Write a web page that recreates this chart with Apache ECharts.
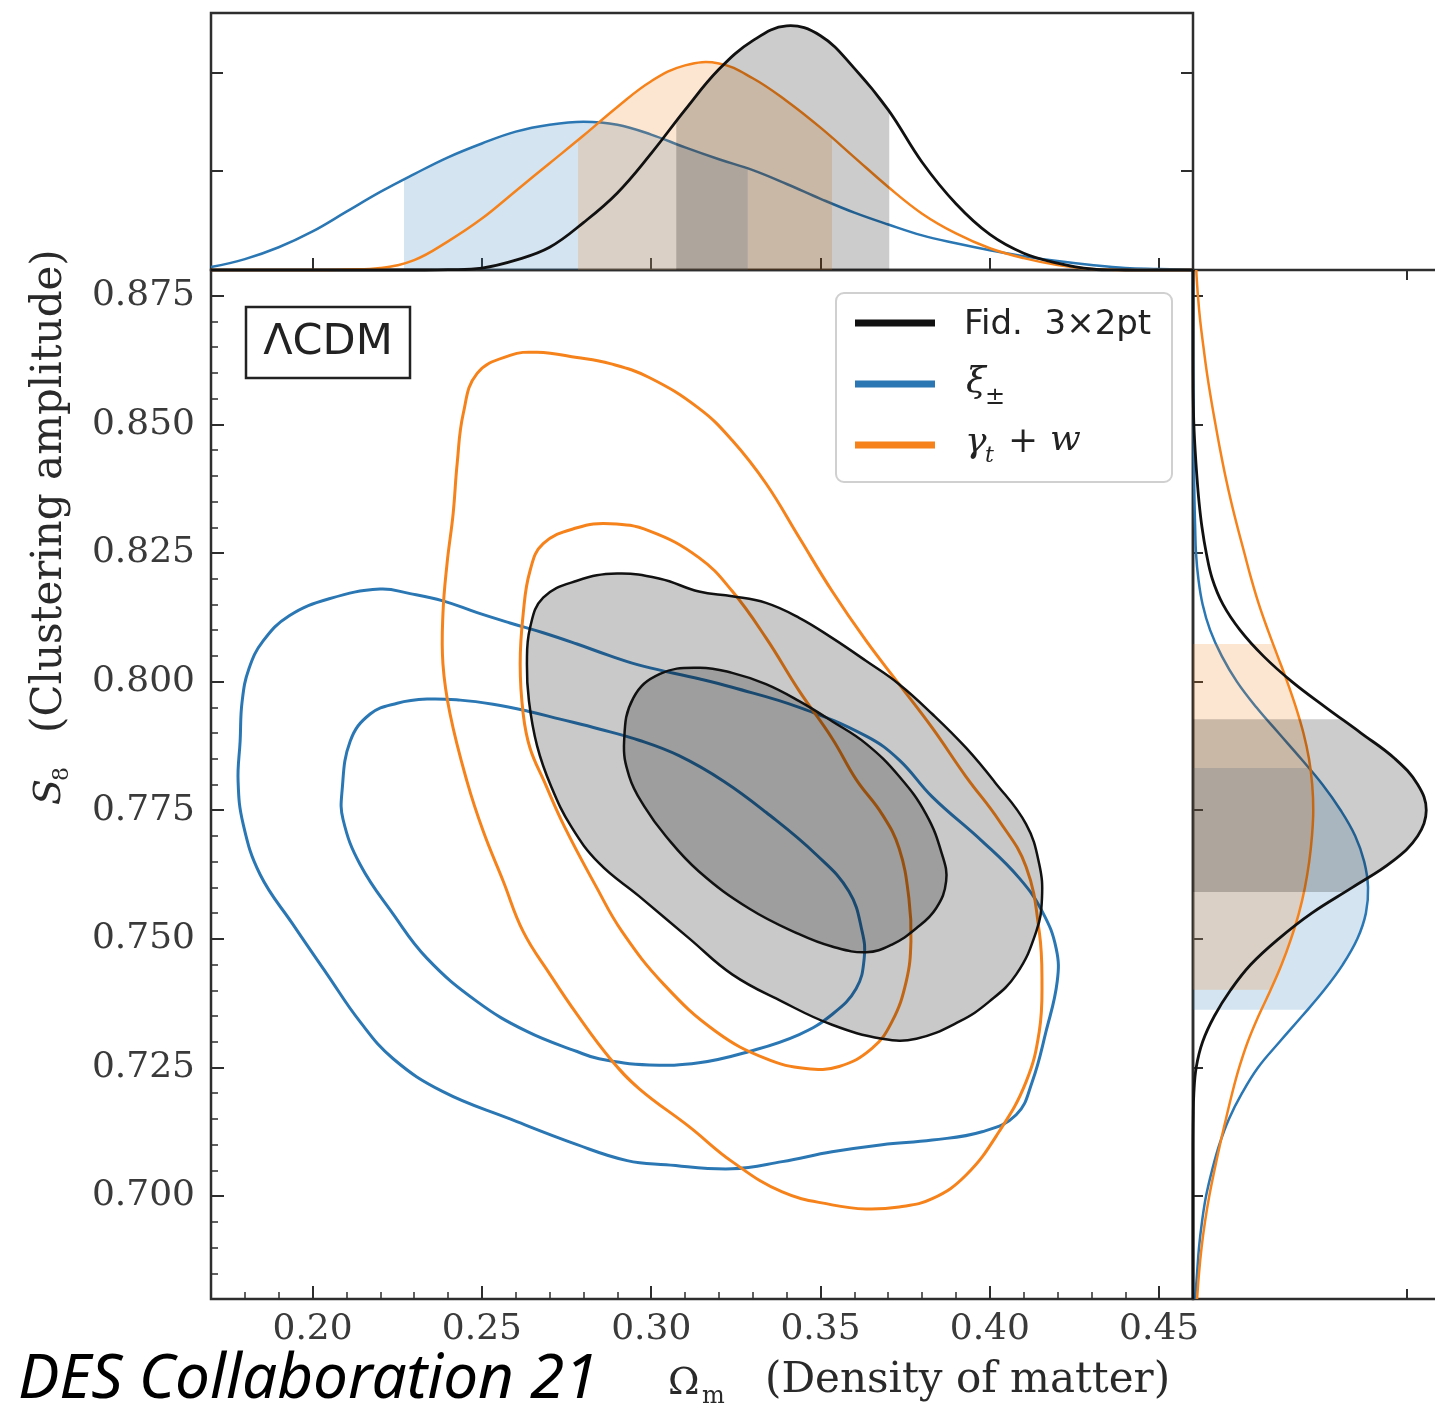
<!DOCTYPE html>
<html>
<head>
<meta charset="utf-8">
<script src="https://cdn.jsdelivr.net/npm/echarts@6/dist/echarts.min.js"></script>
<style>
  html, body { margin: 0; padding: 0; background: #ffffff; }
  #chart { width: 1435px; height: 1413px; }
</style>
</head>
<body>
<div id="chart"></div>
<script>
// ---------------- axis ticks ----------------
const omTicks = [0.20, 0.25, 0.30, 0.35, 0.40, 0.45];
const omTickLabels = ['0.20', '0.25', '0.30', '0.35', '0.40', '0.45'];
const s8Ticks = [0.700, 0.725, 0.750, 0.775, 0.800, 0.825, 0.850, 0.875];
const s8TickLabels = ['0.700', '0.725', '0.750', '0.775', '0.800', '0.825', '0.850', '0.875'];
const omMinorTicks = [];
for (let i = 17; i <= 46; i++) omMinorTicks.push(i / 100);
const s8MinorTicks = [];
for (let i = 136; i <= 176; i++) s8MinorTicks.push(i / 200);
const topDensityTicks = [1, 2];
const sideDensityTicks = [1];

// ---------------- 1D marginal of Omega_m ----------------
const omGrid = [0.17, 0.18, 0.19, 0.20, 0.21, 0.22, 0.23, 0.24, 0.25, 0.26, 0.27, 0.28, 0.29, 0.30, 0.31,
                0.32, 0.33, 0.34, 0.35, 0.36, 0.37, 0.38, 0.39, 0.40, 0.41, 0.42, 0.43, 0.44, 0.45, 0.46];
const blueOm   = [0.03, 0.11, 0.23, 0.39, 0.59, 0.79, 0.97, 1.14, 1.28, 1.40, 1.47, 1.50, 1.47, 1.37, 1.24,
                  1.12, 1.01, 0.87, 0.72, 0.58, 0.46, 0.35, 0.27, 0.20, 0.14, 0.09, 0.05, 0.02, 0.01, 0.00];
const orangeOm = [0, 0, 0, 0, 0.005, 0.02, 0.10, 0.29, 0.52, 0.80, 1.08, 1.36, 1.65, 1.91, 2.07,
                  2.09, 1.94, 1.71, 1.44, 1.14, 0.84, 0.57, 0.37, 0.22, 0.12, 0.05, 0.01, 0, 0, 0];
const blackOm  = [0, 0, 0, 0, 0, 0, 0, 0.003, 0.02, 0.10, 0.23, 0.48, 0.78, 1.18, 1.62,
                  2.03, 2.32, 2.47, 2.37, 2.04, 1.62, 1.09, 0.67, 0.36, 0.17, 0.07, 0.01, 0, 0, 0];
const blueOmBand   = [0.2270, 0.3285];
const orangeOmBand = [0.2784, 0.3534];
const blackOmBand  = [0.3074, 0.3703];

// ---------------- 1D marginal of S8 ----------------
const s8Grid = [0.680, 0.685, 0.690, 0.695, 0.700, 0.705, 0.710, 0.715, 0.720, 0.725, 0.730, 0.735, 0.740, 0.745,
                0.750, 0.755, 0.760, 0.765, 0.770, 0.775, 0.780, 0.785, 0.790, 0.795, 0.800, 0.805, 0.810, 0.815,
                0.820, 0.825, 0.830, 0.835, 0.840, 0.845, 0.850, 0.855, 0.860, 0.865, 0.870, 0.875, 0.880];
const blueS8   = [0.010, 0.019, 0.028, 0.042, 0.061, 0.089, 0.123, 0.168, 0.229, 0.304, 0.405, 0.510, 0.612, 0.700,
                  0.768, 0.808, 0.818, 0.800, 0.758, 0.690, 0.605, 0.505, 0.400, 0.296, 0.205, 0.134, 0.080, 0.045,
                  0.025, 0.014, 0.010, 0.007, 0.005, 0.004, 0.003, 0.002, 0.001, 0, 0, 0, 0];
const orangeS8 = [0.019, 0.028, 0.040, 0.056, 0.076, 0.100, 0.126, 0.154, 0.183, 0.216, 0.256, 0.306, 0.362, 0.414,
                  0.458, 0.495, 0.523, 0.543, 0.556, 0.562, 0.557, 0.542, 0.516, 0.481, 0.440, 0.395, 0.350, 0.308,
                  0.272, 0.240, 0.208, 0.178, 0.151, 0.127, 0.105, 0.084, 0.065, 0.049, 0.034, 0.023, 0.015];
const blackS8  = [0, 0, 0, 0, 0, 0, 0, 0.001, 0.004, 0.015, 0.045, 0.100, 0.175, 0.270,
                  0.400, 0.555, 0.745, 0.930, 1.050, 1.090, 1.050, 0.944, 0.785, 0.620, 0.462, 0.328, 0.220, 0.140,
                  0.090, 0.062, 0.042, 0.028, 0.018, 0.010, 0.004, 0.001, 0, 0, 0, 0, 0];
const blueS8Band   = [0.7362, 0.7832];
const orangeS8Band = [0.7401, 0.8073];
const blackS8Band  = [0.7591, 0.7927];

// ---------------- 2D contours [Omega_m, S8] ----------------
const blueOuter = [
  [0.1780, 0.7806], [0.1786, 0.7884], [0.1792, 0.7962], [0.1812, 0.8025], [0.1854, 0.8079], [0.1931, 0.8128],
  [0.2049, 0.8161], [0.2199, 0.8180], [0.2288, 0.8171], [0.2385, 0.8157], [0.2486, 0.8134], [0.2583, 0.8114],
  [0.2681, 0.8095], [0.2781, 0.8073], [0.2879, 0.8050], [0.2976, 0.8030], [0.3144, 0.8005], [0.3239, 0.7989],
  [0.3437, 0.7950], [0.3635, 0.7894], [0.3732, 0.7848], [0.3830, 0.7776], [0.3977, 0.7690], [0.4087, 0.7618],
  [0.4155, 0.7553], [0.4196, 0.7481], [0.4199, 0.7417], [0.4166, 0.7320], [0.4125, 0.7222], [0.4078, 0.7158],
  [0.3977, 0.7125], [0.3830, 0.7109], [0.3682, 0.7100], [0.3534, 0.7086], [0.3387, 0.7067], [0.3239, 0.7053],
  [0.3044, 0.7061], [0.2929, 0.7069], [0.2781, 0.7100], [0.2583, 0.7150], [0.2385, 0.7203], [0.2238, 0.7267],
  [0.2140, 0.7339], [0.2043, 0.7431], [0.1942, 0.7528], [0.1845, 0.7625], [0.1795, 0.7723]
];
const blueInner = [
  [0.2087, 0.7787], [0.2111, 0.7884], [0.2170, 0.7937], [0.2250, 0.7958], [0.2338, 0.7966], [0.2436, 0.7964],
  [0.2533, 0.7956], [0.2633, 0.7943], [0.2731, 0.7927], [0.2846, 0.7908], [0.2964, 0.7886], [0.3082, 0.7856],
  [0.3215, 0.7806], [0.3339, 0.7746], [0.3487, 0.7664], [0.3584, 0.7592], [0.3623, 0.7514], [0.3629, 0.7462],
  [0.3605, 0.7403], [0.3534, 0.7353], [0.3437, 0.7314], [0.3289, 0.7281], [0.3141, 0.7259], [0.2994, 0.7255],
  [0.2846, 0.7267], [0.2781, 0.7281], [0.2633, 0.7320], [0.2486, 0.7378], [0.2338, 0.7462], [0.2238, 0.7548],
  [0.2140, 0.7645], [0.2090, 0.7732]
];
const orangeOuter = [
  [0.2663, 0.8640], [0.2781, 0.8630], [0.2879, 0.8618], [0.2994, 0.8591], [0.3141, 0.8531], [0.3239, 0.8469],
  [0.3339, 0.8385], [0.3437, 0.8280], [0.3534, 0.8176], [0.3635, 0.8079], [0.3732, 0.7995], [0.3830, 0.7910],
  [0.3930, 0.7815], [0.4027, 0.7730], [0.4107, 0.7640], [0.4146, 0.7514], [0.4154, 0.7417], [0.4146, 0.7320],
  [0.4107, 0.7222], [0.4027, 0.7125], [0.3930, 0.7041], [0.3830, 0.6995], [0.3732, 0.6979], [0.3635, 0.6975],
  [0.3534, 0.6983], [0.3387, 0.7008], [0.3239, 0.7067], [0.3112, 0.7135], [0.2964, 0.7209], [0.2879, 0.7267],
  [0.2781, 0.7353], [0.2701, 0.7431], [0.2622, 0.7514], [0.2563, 0.7612], [0.2504, 0.7709], [0.2456, 0.7806],
  [0.2406, 0.7937], [0.2385, 0.8034], [0.2385, 0.8132], [0.2397, 0.8229], [0.2415, 0.8326], [0.2427, 0.8424],
  [0.2445, 0.8521], [0.2486, 0.8599], [0.2583, 0.8634]
];
const orangeInner = [
  [0.2879, 0.8307], [0.2994, 0.8293], [0.3141, 0.8241], [0.3239, 0.8176], [0.3339, 0.8085], [0.3437, 0.7982],
  [0.3534, 0.7890], [0.3605, 0.7810], [0.3682, 0.7742], [0.3732, 0.7676], [0.3761, 0.7579], [0.3767, 0.7495],
  [0.3753, 0.7417], [0.3711, 0.7339], [0.3652, 0.7287], [0.3555, 0.7252], [0.3457, 0.7248], [0.3339, 0.7267],
  [0.3191, 0.7320], [0.3038, 0.7411], [0.2914, 0.7514], [0.2837, 0.7602], [0.2743, 0.7719], [0.2684, 0.7806],
  [0.2642, 0.7871], [0.2622, 0.7937], [0.2613, 0.8034], [0.2622, 0.8132], [0.2642, 0.8215], [0.2681, 0.8268],
  [0.2781, 0.8299]
];
const blackOuter = [
  [0.2899, 0.8210], [0.3026, 0.8200], [0.3141, 0.8175], [0.3239, 0.8166], [0.3339, 0.8153], [0.3437, 0.8124],
  [0.3534, 0.8085], [0.3635, 0.8040], [0.3732, 0.7995], [0.3830, 0.7937], [0.3930, 0.7871], [0.4013, 0.7806],
  [0.4107, 0.7723], [0.4146, 0.7645], [0.4154, 0.7579], [0.4137, 0.7514], [0.4078, 0.7431], [0.3998, 0.7378],
  [0.3909, 0.7339], [0.3783, 0.7306], [0.3682, 0.7306], [0.3534, 0.7333], [0.3387, 0.7378], [0.3239, 0.7431],
  [0.3112, 0.7501], [0.2964, 0.7583], [0.2846, 0.7647], [0.2763, 0.7719], [0.2704, 0.7797], [0.2663, 0.7875],
  [0.2639, 0.7962], [0.2633, 0.8034], [0.2642, 0.8104], [0.2681, 0.8163], [0.2781, 0.8196]
];
const blackInner = [
  [0.2920, 0.7884], [0.2947, 0.7968], [0.3026, 0.8015], [0.3141, 0.8027], [0.3239, 0.8017], [0.3339, 0.7995],
  [0.3437, 0.7962], [0.3534, 0.7923], [0.3635, 0.7879], [0.3732, 0.7816], [0.3812, 0.7742], [0.3859, 0.7664],
  [0.3871, 0.7612], [0.3841, 0.7559], [0.3782, 0.7520], [0.3711, 0.7489], [0.3635, 0.7474], [0.3534, 0.7485],
  [0.3437, 0.7509], [0.3289, 0.7559], [0.3141, 0.7631], [0.3044, 0.7699], [0.2979, 0.7758], [0.2935, 0.7816]
];

// ---------------- styling ----------------
const BLUE = '#2a77b4';
const ORANGE = '#f5821a';
const BLACK = '#111111';
const FRAME = '#2e2e2e';
const SMOOTH_CONTOUR = 0.42;
const SMOOTH_MARGINAL = 0.4;
const TOP_MAX = 2.6;
const SIDE_MAX = 1.215;
const OM_MIN = 0.17, OM_MAX = 0.46;
const S8_MIN = 0.68, S8_MAX = 0.88;

function labelFor(values, labels) {
  return function (v) {
    for (let i = 0; i < values.length; i++) {
      if (Math.abs(values[i] - v) < 1e-9) return labels[i];
    }
    return '';
  };
}

// closed 2D confidence contour
function contourSeries(points, color, fill, width) {
  return {
    type: 'custom', xAxisIndex: 1, yAxisIndex: 3, silent: true, data: points,
    renderItem: function (params, api) {
      if (params.dataIndex !== 0) return null;
      const px = points.map(function (p) { return api.coord(p); });
      return {
        type: 'polygon',
        shape: { points: px, smooth: SMOOTH_CONTOUR },
        style: { fill: fill || 'none', stroke: color, lineWidth: width, lineJoin: 'round' }
      };
    }
  };
}

// 1D marginal on the Omega_m panel (curve + shaded 68% interval under it)
function topMarginal(xs, ys, band, color, bandColor, width) {
  const pts = xs.map(function (x, i) { return [x, ys[i]]; });
  return {
    type: 'custom', xAxisIndex: 0, yAxisIndex: 0, silent: true, data: pts,
    renderItem: function (params, api) {
      if (params.dataIndex !== 0) return null;
      const line = pts.map(function (p) { return api.coord(p); });
      const area = [api.coord([pts[0][0], 0])].concat(line, [api.coord([pts[pts.length - 1][0], 0])]);
      const a = api.coord([band[0], 0]);
      const b = api.coord([band[1], TOP_MAX]);
      return {
        type: 'group',
        children: [
          {
            type: 'polyline', shape: { points: area, smooth: SMOOTH_MARGINAL },
            style: { fill: bandColor, stroke: null, lineWidth: 0 },
            clipPath: { type: 'rect', shape: { x: a[0], y: b[1], width: b[0] - a[0], height: a[1] - b[1] } }
          },
          {
            type: 'polyline', shape: { points: line, smooth: SMOOTH_MARGINAL },
            style: { fill: null, stroke: color, lineWidth: width }
          }
        ]
      };
    }
  };
}

// 1D marginal on the S8 panel (density along x, S8 along y)
function sideMarginal(ss, ds, band, color, bandColor, width) {
  const pts = ss.map(function (s, i) { return [ds[i], s]; });
  return {
    type: 'custom', xAxisIndex: 4, yAxisIndex: 4, silent: true, data: pts,
    renderItem: function (params, api) {
      if (params.dataIndex !== 0) return null;
      const line = pts.map(function (p) { return api.coord(p); });
      const area = [api.coord([0, pts[0][1]])].concat(line, [api.coord([0, pts[pts.length - 1][1]])]);
      const a = api.coord([0, band[0]]);
      const b = api.coord([SIDE_MAX, band[1]]);
      return {
        type: 'group',
        children: [
          {
            type: 'polyline', shape: { points: area, smooth: SMOOTH_MARGINAL },
            style: { fill: bandColor, stroke: null, lineWidth: 0 },
            clipPath: { type: 'rect', shape: { x: a[0], y: b[1], width: b[0] - a[0], height: a[1] - b[1] } }
          },
          {
            type: 'polyline', shape: { points: line, smooth: SMOOTH_MARGINAL },
            style: { fill: null, stroke: color, lineWidth: width }
          }
        ]
      };
    }
  };
}

const tickLine = { color: FRAME, width: 2 };
const serifLabel = { fontFamily: 'DejaVu Serif', fontSize: 36, color: '#3a3a3a' };
const gridBox = { show: true, borderColor: FRAME, borderWidth: 2.5, backgroundColor: 'transparent', outerBoundsMode: 'none', containLabel: false };

function hiddenAxis(extra) {
  return Object.assign({
    type: 'value', axisLine: { show: false }, splitLine: { show: false },
    axisLabel: { show: false }, axisTick: { show: false }
  }, extra);
}

const option = {
  animation: false,
  backgroundColor: '#ffffff',
  grid: [
    Object.assign({ left: 211, top: 13, width: 982, height: 257 }, gridBox),
    Object.assign({ left: 211, top: 270, width: 982, height: 1029 }, gridBox),
    Object.assign({ left: 1193, top: 270, width: 260, height: 1029 }, gridBox)
  ],
  xAxis: [
    // 0: top panel, Omega_m
    hiddenAxis({ gridIndex: 0, min: OM_MIN, max: OM_MAX, position: 'bottom',
      axisTick: { show: true, inside: true, length: 12, lineStyle: tickLine, customValues: omTicks } }),
    // 1: main panel, Omega_m with labels
    hiddenAxis({ gridIndex: 1, min: OM_MIN, max: OM_MAX, position: 'bottom',
      axisTick: { show: true, inside: true, length: 13, lineStyle: tickLine, customValues: omTicks },
      axisLabel: Object.assign({ show: true, margin: 13, customValues: omTicks,
        formatter: labelFor(omTicks, omTickLabels) }, serifLabel) }),
    // 2: main panel minor ticks
    hiddenAxis({ gridIndex: 1, min: OM_MIN, max: OM_MAX, position: 'bottom',
      axisTick: { show: true, inside: true, length: 7, lineStyle: { color: FRAME, width: 1.5 }, customValues: omMinorTicks } }),
    // 3: side panel density, top edge
    hiddenAxis({ gridIndex: 2, min: 0, max: SIDE_MAX, position: 'top',
      axisTick: { show: true, inside: true, length: 10, lineStyle: tickLine, customValues: sideDensityTicks } }),
    // 4: side panel density, bottom edge
    hiddenAxis({ gridIndex: 2, min: 0, max: SIDE_MAX, position: 'bottom',
      axisTick: { show: true, inside: true, length: 10, lineStyle: tickLine, customValues: sideDensityTicks } })
  ],
  yAxis: [
    // 0: top panel density, left
    hiddenAxis({ gridIndex: 0, min: 0, max: TOP_MAX, position: 'left',
      axisTick: { show: true, inside: true, length: 12, lineStyle: tickLine, customValues: topDensityTicks } }),
    // 1: top panel density, right
    hiddenAxis({ gridIndex: 0, min: 0, max: TOP_MAX, position: 'right',
      axisTick: { show: true, inside: true, length: 12, lineStyle: tickLine, customValues: topDensityTicks } }),
    // 2: main panel minor ticks
    hiddenAxis({ gridIndex: 1, min: S8_MIN, max: S8_MAX, position: 'left',
      axisTick: { show: true, inside: true, length: 7, lineStyle: { color: FRAME, width: 1.5 }, customValues: s8MinorTicks } }),
    // 3: main panel S8 with labels
    hiddenAxis({ gridIndex: 1, min: S8_MIN, max: S8_MAX, position: 'left',
      axisTick: { show: true, inside: true, length: 13, lineStyle: tickLine, customValues: s8Ticks },
      axisLabel: Object.assign({ show: true, margin: 16, customValues: s8Ticks,
        formatter: labelFor(s8Ticks, s8TickLabels) }, serifLabel) }),
    // 4: side panel S8
    hiddenAxis({ gridIndex: 2, min: S8_MIN, max: S8_MAX, position: 'left',
      axisTick: { show: true, inside: true, length: 10, lineStyle: tickLine, customValues: s8Ticks } })
  ],
  series: [
    contourSeries(blueOuter, BLUE, null, 3),
    contourSeries(blueInner, BLUE, null, 3),
    contourSeries(orangeOuter, ORANGE, null, 3),
    contourSeries(orangeInner, ORANGE, null, 3),
    contourSeries(blackOuter, BLACK, 'rgba(0,0,0,0.21)', 2.5),
    contourSeries(blackInner, BLACK, 'rgba(0,0,0,0.21)', 2.5),

    topMarginal(omGrid, blueOm, blueOmBand, BLUE, 'rgba(42,119,180,0.2)', 2.5),
    topMarginal(omGrid, orangeOm, orangeOmBand, ORANGE, 'rgba(245,130,26,0.2)', 2.5),
    topMarginal(omGrid, blackOm, blackOmBand, BLACK, 'rgba(0,0,0,0.2)', 2.8),

    sideMarginal(s8Grid, blueS8, blueS8Band, BLUE, 'rgba(42,119,180,0.2)', 2.5),
    sideMarginal(s8Grid, orangeS8, orangeS8Band, ORANGE, 'rgba(245,130,26,0.2)', 2.5),
    sideMarginal(s8Grid, blackS8, blackS8Band, BLACK, 'rgba(0,0,0,0.2)', 2.8)
  ],
  graphic: [
    // model tag
    { type: 'rect', z: 100, shape: { x: 246, y: 307, width: 164, height: 71 },
      style: { fill: '#ffffff', stroke: '#222222', lineWidth: 2.5 } },
    { type: 'text', z: 101, style: { x: 328, y: 343, text: 'ΛCDM', align: 'center', verticalAlign: 'middle',
      fontFamily: 'DejaVu Sans', fontSize: 43, fill: '#222222' } },

    // legend
    { type: 'rect', z: 100, shape: { x: 836, y: 293, width: 336, height: 189, r: 8 },
      style: { fill: 'rgba(255,255,255,0.85)', stroke: '#d0d0d0', lineWidth: 2 } },
    { type: 'line', z: 101, shape: { x1: 855, y1: 323, x2: 935, y2: 323 }, style: { stroke: BLACK, lineWidth: 7 } },
    { type: 'line', z: 101, shape: { x1: 855, y1: 384, x2: 935, y2: 384 }, style: { stroke: BLUE, lineWidth: 7 } },
    { type: 'line', z: 101, shape: { x1: 855, y1: 445, x2: 935, y2: 445 }, style: { stroke: ORANGE, lineWidth: 7 } },
    { type: 'text', z: 101, style: { x: 964, y: 325, text: 'Fid.  3×2pt', verticalAlign: 'middle',
      fontFamily: 'DejaVu Sans', fontSize: 34, fill: '#222222' } },
    { type: 'text', z: 101, style: { x: 966, y: 383, text: 'ξ', verticalAlign: 'middle',
      fontFamily: 'DejaVu Serif', fontStyle: 'italic', fontSize: 36, fill: '#222222' } },
    { type: 'text', z: 101, style: { x: 985, y: 398, text: '±', verticalAlign: 'middle',
      fontFamily: 'DejaVu Serif', fontSize: 24, fill: '#222222' } },
    { type: 'text', z: 101, style: { x: 965, y: 443, text: 'γ', verticalAlign: 'middle',
      fontFamily: 'DejaVu Serif', fontStyle: 'italic', fontSize: 36, fill: '#222222' } },
    { type: 'text', z: 101, style: { x: 985, y: 456, text: 't', verticalAlign: 'middle',
      fontFamily: 'DejaVu Serif', fontStyle: 'italic', fontSize: 22, fill: '#222222' } },
    { type: 'text', z: 101, style: { x: 1008, y: 443, text: '+', verticalAlign: 'middle',
      fontFamily: 'DejaVu Serif', fontSize: 36, fill: '#222222' } },
    { type: 'text', z: 101, style: { x: 1050, y: 441, text: 'w', verticalAlign: 'middle',
      fontFamily: 'DejaVu Serif', fontStyle: 'italic', fontSize: 36, fill: '#222222' } },

    // x axis title
    { type: 'text', z: 101, style: { x: 668, y: 1384, text: 'Ω', verticalAlign: 'middle',
      fontFamily: 'DejaVu Serif', fontSize: 38, fill: '#2a2a2a' } },
    { type: 'text', z: 101, style: { x: 702, y: 1397, text: 'm', verticalAlign: 'middle',
      fontFamily: 'DejaVu Serif', fontSize: 24, fill: '#2a2a2a' } },
    { type: 'text', z: 101, style: { x: 765, y: 1381, text: '(Density of matter)', verticalAlign: 'middle',
      fontFamily: 'DejaVu Serif', fontSize: 42, fill: '#2a2a2a' } },

    // y axis title (reads bottom to top)
    { type: 'group', z: 101, x: 50, y: 805, rotation: Math.PI / 2, children: [
      { type: 'text', style: { x: 0, y: 0, text: 'S', verticalAlign: 'middle',
        fontFamily: 'DejaVu Serif', fontStyle: 'italic', fontSize: 38, fill: '#2a2a2a' } },
      { type: 'text', style: { x: 24, y: 12, text: '8', verticalAlign: 'middle',
        fontFamily: 'DejaVu Serif', fontSize: 22, fill: '#2a2a2a' } },
      { type: 'text', style: { x: 72, y: 0, text: '(Clustering amplitude)', verticalAlign: 'middle',
        fontFamily: 'DejaVu Serif', fontSize: 42, fill: '#2a2a2a' } }
    ] },

    // credit
    { type: 'text', z: 101, style: { x: 18, y: 1380, text: 'DES Collaboration 21', verticalAlign: 'middle',
      fontFamily: 'Noto Sans', fontStyle: 'italic', fontSize: 62, fill: '#000000' } }
  ]
};

const chart = echarts.init(document.getElementById('chart'), null, { renderer: 'canvas' });
chart.setOption(option);
</script>
</body>
</html>
